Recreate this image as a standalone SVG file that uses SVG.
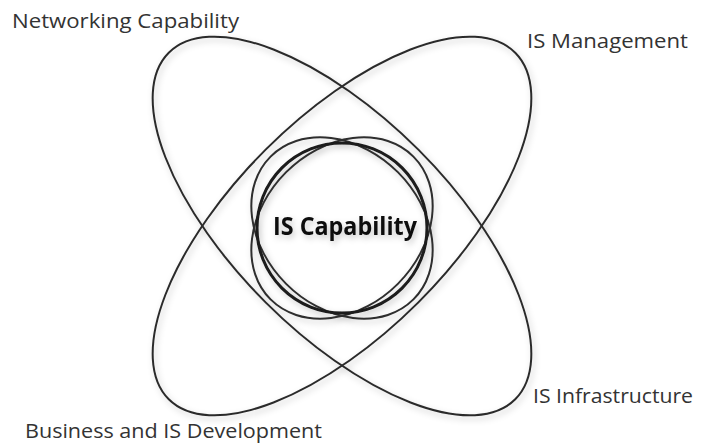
<svg xmlns="http://www.w3.org/2000/svg" width="701" height="444" viewBox="0 0 701 444">
  <defs>
    <filter id="soft" x="-20%" y="-20%" width="140%" height="140%">
      <feDropShadow dx="2" dy="3" stdDeviation="3" flood-color="#000" flood-opacity="0.22"/>
    </filter>
    <style>
      .ring { fill: none; stroke: #2b2b2b; stroke-width: 2; }
      .inner { fill: none; stroke: #2e2e2e; stroke-width: 2; }
      .core { fill: none; stroke: #1a1a1a; stroke-width: 3; }
      .lbl { font-family: "Open Sans", "Liberation Sans", sans-serif; font-size: 20px; fill: #333; }
      .title { font-family: "Open Sans", "Liberation Sans", sans-serif; font-size: 25px; font-weight: bold; fill: #111; }
    </style>
  </defs>
  <rect width="701" height="444" fill="#fff"/>

  <!-- long ellipse running from upper left to lower right -->
  <g id="networking-infrastructure" filter="url(#soft)">
    <ellipse class="ring" cx="342" cy="226" rx="245" ry="108" transform="rotate(45 342 226)"/>
  </g>

  <!-- long ellipse running from upper right to lower left -->
  <g id="management-development" filter="url(#soft)">
    <ellipse class="ring" cx="342" cy="226" rx="245" ry="108" transform="rotate(-45 342 226)"/>
  </g>

  <!-- central capability cluster -->
  <g id="is-capability" filter="url(#soft)">
    <ellipse class="inner" cx="342" cy="228" rx="101" ry="79" transform="rotate(45 342 228)"/>
    <ellipse class="inner" cx="342" cy="228" rx="101" ry="79" transform="rotate(-45 342 228)"/>
    <circle class="core" cx="342" cy="228" r="85"/>
    <text class="title" x="345" y="235" text-anchor="middle" textLength="144" lengthAdjust="spacingAndGlyphs">IS Capability</text>
  </g>

  <g id="label-networking">
    <text class="lbl" x="12" y="28" textLength="227" lengthAdjust="spacingAndGlyphs">Networking Capability</text>
  </g>
  <g id="label-management">
    <text class="lbl" x="527" y="48" textLength="161" lengthAdjust="spacingAndGlyphs">IS Management</text>
  </g>
  <g id="label-infrastructure">
    <text class="lbl" x="533" y="403" textLength="160" lengthAdjust="spacingAndGlyphs">IS Infrastructure</text>
  </g>
  <g id="label-development">
    <text class="lbl" x="25" y="438" textLength="297" lengthAdjust="spacingAndGlyphs">Business and IS Development</text>
  </g>

  <g id="connectors"/>
</svg>
